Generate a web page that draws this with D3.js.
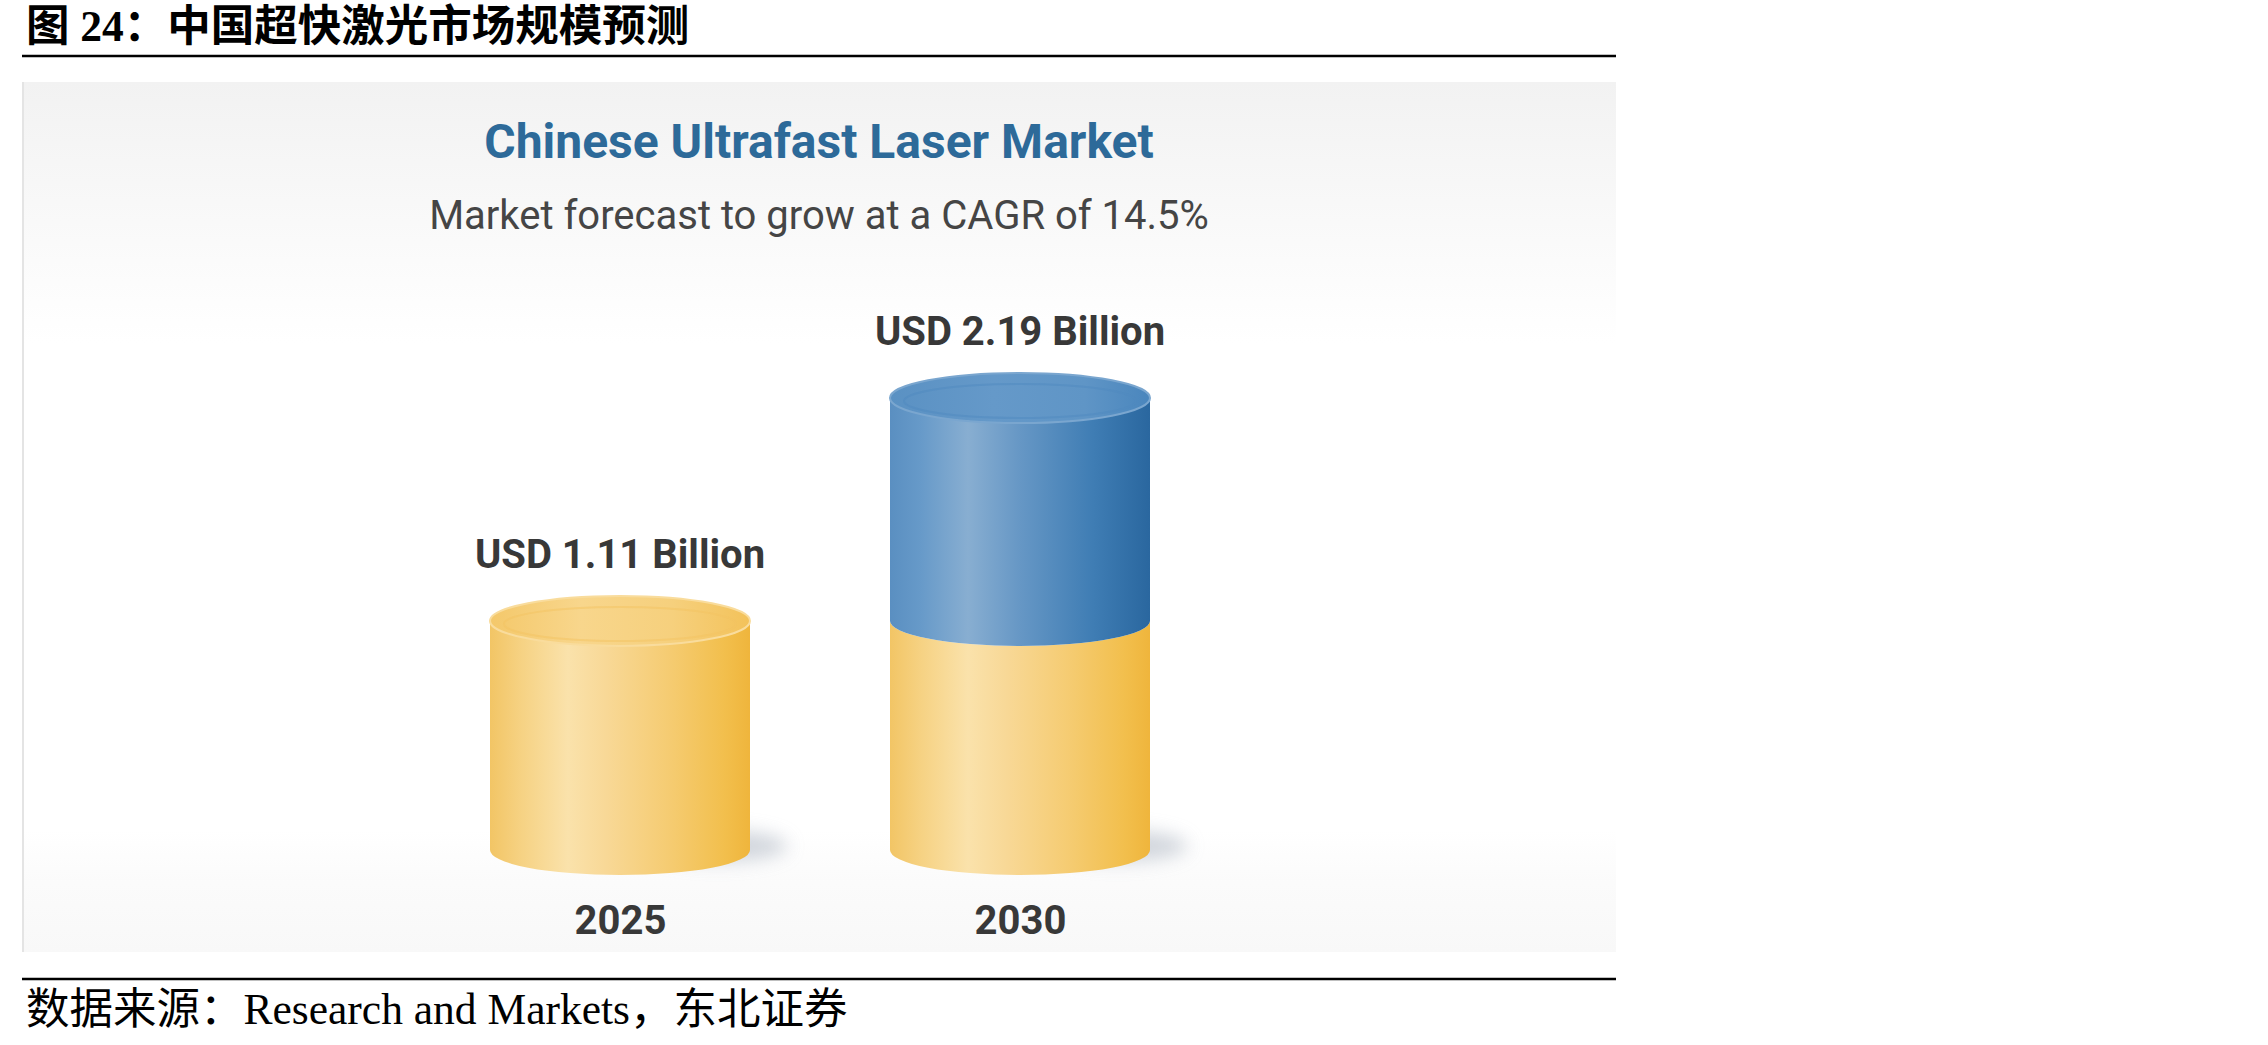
<!DOCTYPE html>
<html>
<head>
<meta charset="utf-8">
<script src="https://cdn.jsdelivr.net/npm/d3@7"></script>
<style>
  html,body{margin:0;padding:0;background:#fff;}
  svg{display:block;}
</style>
</head>
<body>
<svg id="chart" width="2268" height="1045"></svg>
<script>
const years = ["2025", "2030"];
const marketSize = [1.11, 2.19];            // USD billion
const valueLabels = ["USD 1.11 Billion", "USD 2.19 Billion"];
const figTitle = "图 24：中国超快激光市场规模预测";
const chartTitle = "Chinese Ultrafast Laser Market";
const chartSubtitle = "Market forecast to grow at a CAGR of 14.5%";
const sourceNote = "数据来源：Research and Markets，东北证券";

const svg = d3.select("#chart");
const panel = {x0: 22, x1: 1616, y0: 82, y1: 952};

const defs = svg.append("defs");

function linGrad(id, stops, vertical){
  const g = defs.append("linearGradient").attr("id", id)
    .attr("x1", 0).attr("y1", 0)
    .attr("x2", vertical ? 0 : 1).attr("y2", vertical ? 1 : 0);
  stops.forEach(([o, c]) => g.append("stop").attr("offset", o).attr("stop-color", c));
}
linGrad("bgGrad", [[0, "#f2f2f2"], [0.16, "#f9f9f9"], [0.3, "#ffffff"], [0.86, "#ffffff"], [0.92, "#fbfbfb"], [1, "#f8f8f8"]], true);
linGrad("goldBody", [[0, "#f2c565"], [0.12, "#f6d283"], [0.3, "#fae2ab"], [0.45, "#f8d896"], [0.7, "#f5cb70"], [0.9, "#f2bf4d"], [1, "#efb53c"]]);
linGrad("goldCap", [[0, "#f4c86a"], [0.35, "#f8d68c"], [0.7, "#f6d07d"], [1, "#f3c25a"]]);
linGrad("blueBody", [[0, "#5a8fc1"], [0.12, "#679ac9"], [0.3, "#88aed1"], [0.5, "#6697c5"], [0.78, "#3f7db4"], [1, "#2a679f"]]);
linGrad("blueCap", [[0, "#5a91c3"], [0.4, "#6599c9"], [0.75, "#5f95c6"], [1, "#4a86bd"]]);

const blur = defs.append("filter").attr("id", "soft").attr("x", "-50%").attr("y", "-100%").attr("width", "200%").attr("height", "300%");
blur.append("feGaussianBlur").attr("stdDeviation", 9);

// header
svg.append("text")
  .attr("x", 26).attr("y", 41)
  .attr("font-family", "'Liberation Serif','Noto Sans CJK SC',serif")
  .attr("font-weight", 700).attr("font-size", 43.5).attr("fill", "#000")
  .text(figTitle);
svg.append("line").attr("x1", panel.x0).attr("x2", panel.x1).attr("y1", 56).attr("y2", 56)
  .attr("stroke", "#000").attr("stroke-width", 2.5);

// panel
svg.append("rect").attr("x", panel.x0).attr("y", panel.y0)
  .attr("width", panel.x1 - panel.x0).attr("height", panel.y1 - panel.y0)
  .attr("fill", "url(#bgGrad)");
svg.append("rect").attr("x", panel.x0).attr("y", panel.y0).attr("width", 2)
  .attr("height", panel.y1 - panel.y0).attr("fill", "#e4e4e4");

const cx0 = 819;
svg.append("text").attr("x", cx0).attr("y", 158).attr("text-anchor", "middle")
  .attr("font-family", "Roboto, sans-serif").attr("font-weight", 700)
  .attr("font-size", 48).attr("fill", "#2d6a99").text(chartTitle);
svg.append("text").attr("x", cx0).attr("y", 229).attr("text-anchor", "middle")
  .attr("font-family", "Roboto, sans-serif").attr("font-weight", 400)
  .attr("font-size", 40).attr("fill", "#454545").text(chartSubtitle);

// scales
const x = d3.scalePoint().domain(years).range([420, 1220]).padding(0.5);
const y = d3.scaleLinear().domain([0, d3.max(marketSize)]).range([850, 398]);
const rx = 130, ry = 25;

const base = marketSize[0];
const bars = years.map((yr, i) => {
  const v = marketSize[i];
  const segs = [{from: 0, to: Math.min(v, base), kind: "gold"}];
  if (v > base) segs.push({from: base, to: v, kind: "blue"});
  return {year: yr, value: v, label: valueLabels[i], segs};
});

const g = svg.append("g");

// floor shadows
g.selectAll("ellipse.shadow").data(bars).join("ellipse")
  .attr("class", "shadow")
  .attr("cx", d => x(d.year) + rx * 0.75)
  .attr("cy", y(0) - 4)
  .attr("rx", 70).attr("ry", 16)
  .attr("fill", "#c3c9d2").attr("opacity", 0.75)
  .attr("filter", "url(#soft)");

function bodyPath(cx, yb, yt){
  return `M${cx - rx},${yt} L${cx - rx},${yb} A${rx},${ry} 0 0 0 ${cx + rx},${yb} L${cx + rx},${yt} A${rx},${ry} 0 0 1 ${cx - rx},${yt} Z`;
}

const cyl = g.selectAll("g.cyl").data(bars).join("g").attr("class", "cyl");

cyl.each(function(d){
  const sel = d3.select(this);
  const cx = x(d.year);
  d.segs.forEach(s => {
    sel.append("path")
      .attr("d", bodyPath(cx, y(s.from), y(s.to)))
      .attr("fill", s.kind === "gold" ? "url(#goldBody)" : "url(#blueBody)");
  });
  const top = d.segs[d.segs.length - 1];
  sel.append("ellipse")
    .attr("cx", cx).attr("cy", y(top.to)).attr("rx", rx).attr("ry", ry)
    .attr("fill", top.kind === "gold" ? "url(#goldCap)" : "url(#blueCap)")
    .attr("stroke", top.kind === "gold" ? "#f9dc9c" : "#7aa6cf").attr("stroke-width", 2);
  sel.append("ellipse")
    .attr("cx", cx).attr("cy", y(top.to) + 3).attr("rx", rx - 14).attr("ry", ry - 8)
    .attr("fill", "none")
    .attr("stroke", top.kind === "gold" ? "#f3c461" : "#4f8abf")
    .attr("stroke-width", 2).attr("opacity", 0.5);
});

// value labels
g.selectAll("text.val").data(bars).join("text")
  .attr("class", "val")
  .attr("x", d => x(d.year)).attr("y", d => y(d.value) - ry - 28)
  .attr("text-anchor", "middle")
  .attr("font-family", "Roboto, sans-serif").attr("font-weight", 700)
  .attr("font-size", 40).attr("fill", "#383838")
  .text(d => d.label);

// x axis labels
const xAxis = d3.axisBottom(x).tickSize(0).tickPadding(0);
const ax = svg.append("g").attr("transform", "translate(0,934)").call(xAxis);
ax.select(".domain").remove();
ax.selectAll("text")
  .attr("dy", 0).attr("y", 0)
  .attr("font-family", "Roboto, sans-serif").attr("font-weight", 700)
  .attr("font-size", 40).attr("fill", "#383838");

// source
svg.append("line").attr("x1", panel.x0).attr("x2", panel.x1).attr("y1", 979).attr("y2", 979)
  .attr("stroke", "#000").attr("stroke-width", 2.5);
svg.append("text")
  .attr("x", 26).attr("y", 1024)
  .attr("font-family", "'Liberation Serif','Noto Sans CJK SC',serif")
  .attr("font-size", 43.5).attr("fill", "#000")
  .text(sourceNote);
</script>
</body>
</html>
